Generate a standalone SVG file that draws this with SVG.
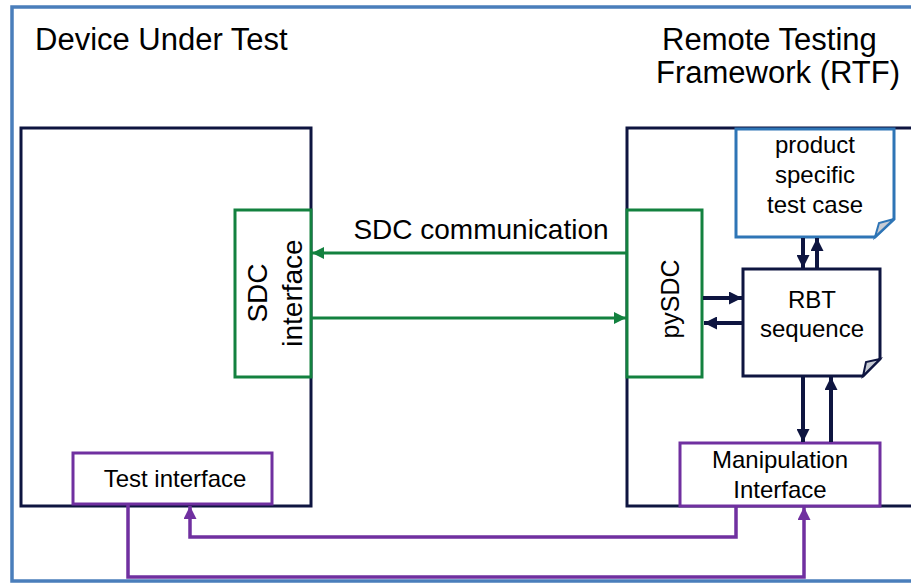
<svg xmlns="http://www.w3.org/2000/svg" width="911" height="584" viewBox="0 0 911 584">
<defs>
<style>
text{font-family:"Liberation Sans",Arial,sans-serif;fill:#000;}
.h{font-size:31px;}
.m{font-size:24px;text-anchor:middle;}
.r{font-size:28px;text-anchor:middle;}
.navy{fill:#fff;stroke:#0E1540;stroke-width:3;}
.green{fill:#fff;stroke:#13813F;stroke-width:3;}
.purple{fill:#fff;stroke:#7030A0;stroke-width:3;}
.blue{fill:#fff;stroke:#2E75B6;stroke-width:3;}
.gl{fill:none;stroke:#13813F;stroke-width:3;}
.nl{fill:none;stroke:#0E1540;stroke-width:4;}
.pl{fill:none;stroke:#7030A0;stroke-width:3.5;}
</style>
<marker id="ag" viewBox="0 0 10 10" refX="10" refY="5" markerUnits="userSpaceOnUse" markerWidth="12" markerHeight="12" orient="auto"><path d="M0,0 L10,5 L0,10 z" fill="#13813F"/></marker>
<marker id="an" viewBox="0 0 10 10" refX="10" refY="5" markerUnits="userSpaceOnUse" markerWidth="13" markerHeight="13" orient="auto"><path d="M0,0 L10,5 L0,10 z" fill="#0E1540"/></marker>
<marker id="ap" viewBox="0 0 10 10" refX="10" refY="5" markerUnits="userSpaceOnUse" markerWidth="13" markerHeight="13" orient="auto"><path d="M0,0 L10,5 L0,10 z" fill="#7030A0"/></marker>
</defs>
<rect x="0" y="0" width="911" height="584" fill="#fff"/>
<rect id="frame" x="12" y="7" width="920" height="574" fill="none" stroke="#4A7EBB" stroke-width="3.5"/>
<text class="h" x="35" y="50">Device Under Test</text>
<text class="h" x="662" y="50">Remote Testing</text>
<text class="h" x="656" y="83">Framework (RTF)</text>

<g id="dut"><rect class="navy" x="21" y="128" width="290" height="378"/></g>
<g id="rtf"><rect class="navy" x="627" y="128" width="300" height="378"/></g>

<g id="sdc-interface">
<rect class="green" x="235" y="210" width="76" height="167"/>
<text class="r" transform="translate(267,293) rotate(-90)">SDC</text>
<text class="r" transform="translate(302,293) rotate(-90)">interface</text>
</g>
<g id="pysdc">
<rect class="green" x="627" y="210" width="75" height="167"/>
<text class="r" style="font-size:25px" transform="translate(679,299) rotate(-90)">pySDC</text>
</g>
<g id="test-case">
<path class="blue" d="M736,129 H894 V219 L875,237 H736 Z"/>
<path d="M875,237 L879,223 L894,219 Z" fill="#C8CCD4" stroke="#2E75B6" stroke-width="2"/>
<text class="m" x="815" y="153">product</text>
<text class="m" x="815" y="183">specific</text>
<text class="m" x="815" y="213">test case</text>
</g>
<g id="rbt">
<path class="navy" d="M743,269 H880 V359 L863,376 H743 Z"/>
<path d="M863,376 L866,362 L880,359 Z" fill="#C8CCD4" stroke="#0E1540" stroke-width="2"/>
<text class="m" x="812" y="308">RBT</text>
<text class="m" x="812" y="337">sequence</text>
</g>
<g id="manipulation">
<rect class="purple" x="680" y="443" width="200" height="63"/>
<text class="m" x="780" y="468">Manipulation</text>
<text class="m" x="780" y="498">Interface</text>
</g>
<g id="test-interface">
<rect class="purple" x="73" y="453" width="199" height="51"/>
<text class="m" x="175" y="487">Test interface</text>
</g>

<g id="connectors">
<text class="r" x="481" y="239">SDC communication</text>
<line class="gl" x1="627" y1="253" x2="312" y2="253" marker-end="url(#ag)"/>
<line class="gl" x1="311" y1="318" x2="626" y2="318" marker-end="url(#ag)"/>
<line class="nl" x1="703" y1="298" x2="742" y2="298" marker-end="url(#an)"/>
<line class="nl" x1="743" y1="323" x2="704" y2="323" marker-end="url(#an)"/>
<line class="nl" x1="803" y1="238" x2="803" y2="268" marker-end="url(#an)"/>
<line class="nl" x1="817" y1="269" x2="817" y2="238" marker-end="url(#an)"/>
<line class="nl" x1="803" y1="377" x2="803" y2="442" marker-end="url(#an)"/>
<line class="nl" x1="831" y1="442" x2="831" y2="377" marker-end="url(#an)"/>
<path class="pl" d="M736,506 V537 H190 V506" marker-end="url(#ap)"/>
<path class="pl" d="M128,504 V577 H804 V507" marker-end="url(#ap)"/>
</g>
</svg>
